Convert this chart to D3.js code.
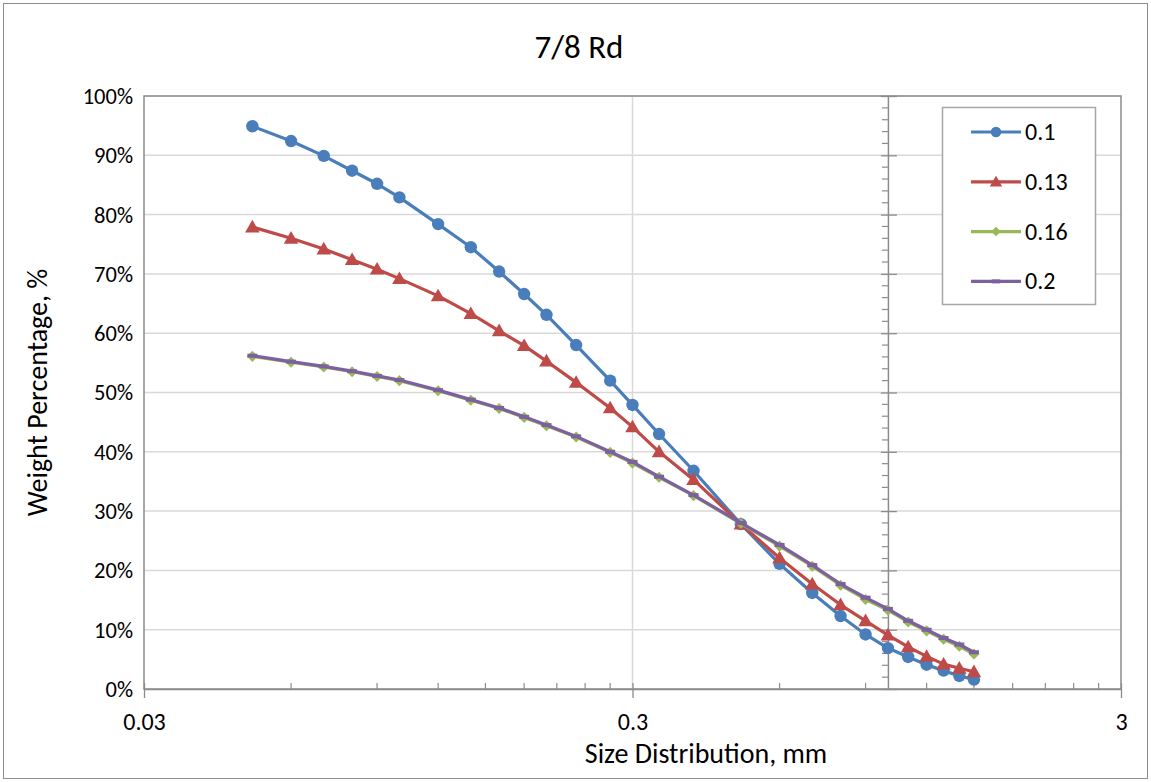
<!DOCTYPE html>
<html>
<head>
<meta charset="utf-8">
<script src="https://cdn.jsdelivr.net/npm/d3@7"></script>
<style>
  html, body { margin: 0; padding: 0; background: #fff; }
  svg { display: block; font-family: Carlito, Calibri, Lato, sans-serif; }
</style>
</head>
<body>
<svg id="chart" width="1151" height="782"></svg>
<script>
// Particle size (mm) for each sieve point
const sizes = [0.05, 0.06, 0.07, 0.08, 0.09, 0.1, 0.12, 0.14, 0.16, 0.18, 0.2, 0.23, 0.27,
               0.3, 0.34, 0.4, 0.5, 0.6, 0.7, 0.8, 0.9, 1.0, 1.1, 1.2, 1.3, 1.4, 1.5];

// Weight percentage (%) per series
const series01 = [94.9, 92.4, 89.9, 87.4, 85.2, 82.9, 78.4, 74.5, 70.4, 66.6, 63.1, 58.0, 52.0,
                  47.9, 43.0, 36.8, 27.8, 21.1, 16.2, 12.3, 9.2, 6.9, 5.4, 4.1, 3.1, 2.2, 1.6];
const series013 = [77.9, 76.0, 74.2, 72.4, 70.8, 69.2, 66.3, 63.3, 60.4, 57.9, 55.3, 51.7, 47.4,
                   44.2, 40.0, 35.3, 27.8, 22.1, 17.7, 14.2, 11.5, 9.1, 7.1, 5.5, 4.2, 3.5, 2.9];
const series016 = [56.1, 55.1, 54.3, 53.5, 52.7, 52.0, 50.3, 48.7, 47.3, 45.8, 44.4, 42.5, 39.9,
                   38.1, 35.7, 32.6, 27.9, 24.1, 20.7, 17.5, 15.1, 13.3, 11.3, 9.8, 8.4, 7.2, 5.9];
const series02 = [56.2, 55.2, 54.4, 53.6, 52.8, 52.1, 50.4, 48.8, 47.4, 45.9, 44.5, 42.6, 40.0,
                  38.3, 35.8, 32.7, 28.0, 24.3, 20.9, 17.7, 15.4, 13.5, 11.5, 10.0, 8.6, 7.5, 6.2];

const seriesNames = ["0.1", "0.13", "0.16", "0.2"];
const yTicks = [0, 10, 20, 30, 40, 50, 60, 70, 80, 90, 100];
const xTicks = [0.03, 0.3, 3];
const xTickLabels = ["0.03", "0.3", "3"];

const colors = ["#4A7EBB", "#BE4B48", "#98B954", "#7D60A0"];
const markers = ["circle", "triangle", "diamond", "dash"];
const allSeries = [series01, series013, series016, series02];

const FONT = "Carlito, Calibri, Lato, sans-serif";
const svg = d3.select("#chart");
const W = 1151, H = 782;

// chart frame
svg.append("rect").attr("x", 3.5).attr("y", 3.5).attr("width", W - 7).attr("height", H - 7)
  .attr("fill", "#fff").attr("stroke", "#8c8c8c").attr("stroke-width", 1);

const plot = { left: 144, right: 1121, top: 96, bottom: 689 };

const x = d3.scaleLog().domain([0.03, 3]).range([plot.left, plot.right]);
const y = d3.scaleLinear().domain([0, 100]).range([plot.bottom, plot.top]);

// horizontal gridlines
svg.append("g").selectAll("line").data(yTicks.slice(1)).join("line")
  .attr("x1", plot.left).attr("x2", plot.right)
  .attr("y1", d => y(d)).attr("y2", d => y(d))
  .attr("stroke", "#d9d9d9").attr("stroke-width", 1.5);

// vertical gridline at the middle decade
svg.append("line").attr("x1", x(0.3)).attr("x2", x(0.3))
  .attr("y1", plot.top).attr("y2", plot.bottom)
  .attr("stroke", "#d9d9d9").attr("stroke-width", 1.5);

// plot border
svg.append("rect").attr("x", plot.left).attr("y", plot.top)
  .attr("width", plot.right - plot.left).attr("height", plot.bottom - plot.top)
  .attr("fill", "none").attr("stroke", "#8c8c8c").attr("stroke-width", 1.5);

// y tick labels on the left
const yAxisLabels = d3.axisLeft(y).tickValues(yTicks).tickSize(0).tickPadding(11)
  .tickFormat(d => d + "%");
svg.append("g").attr("transform", `translate(${plot.left},0)`).call(yAxisLabels)
  .call(g => g.select(".domain").remove())
  .call(g => g.selectAll("text").attr("font-family", FONT)
    .attr("font-size", 22.5).attr("fill", "#000").attr("dy", "0.33em"));

// value axis crossing at size = 1 mm
const axisX = x(1);
const yMinor = d3.range(0, 100.01, 2).filter(v => v % 10 !== 0);
svg.append("g").selectAll("line").data(yMinor).join("line")
  .attr("x1", axisX - 6).attr("x2", axisX)
  .attr("y1", d => y(d)).attr("y2", d => y(d))
  .attr("stroke", "#8c8c8c").attr("stroke-width", 1.2);
const yMajorAxis = d3.axisLeft(y).tickValues(yTicks).tickSizeInner(-9).tickSizeOuter(0).tickFormat("");
svg.append("g").attr("transform", `translate(${axisX},0)`).call(yMajorAxis)
  .call(g => g.select(".domain").attr("stroke", "#8c8c8c").attr("stroke-width", 1.5))
  .call(g => g.selectAll(".tick line").attr("stroke", "#8c8c8c").attr("stroke-width", 1.3)
    .attr("x1", -7).attr("x2", 9));

// x axis: minor ticks
const xMinor = [];
[0.03, 0.3].forEach(base => { for (let k = 2; k <= 9; k++) xMinor.push(base * k); });
svg.append("g").selectAll("line").data(xMinor).join("line")
  .attr("x1", d => x(d)).attr("x2", d => x(d))
  .attr("y1", plot.bottom - 6).attr("y2", plot.bottom)
  .attr("stroke", "#8c8c8c").attr("stroke-width", 1.2);

// x axis: major ticks and labels
const xAxis = d3.axisBottom(x).tickValues(xTicks).tickSizeOuter(0).tickSizeInner(9)
  .tickFormat((d, i) => xTickLabels[i]);
svg.append("g").attr("transform", `translate(0,${plot.bottom})`).call(xAxis)
  .call(g => g.select(".domain").attr("stroke", "#8c8c8c").attr("stroke-width", 1.5))
  .call(g => g.selectAll(".tick line").attr("stroke", "#8c8c8c").attr("stroke-width", 1.3)
    .attr("y1", -6).attr("y2", 9))
  .call(g => g.selectAll("text").attr("font-family", FONT)
    .attr("font-size", 24).attr("fill", "#000").attr("y", 41).attr("dy", 0));

// marker drawing
function drawMarker(sel, type, color, scale) {
  const s = scale || 1;
  if (type === "circle") {
    sel.append("circle").attr("r", 6.2 * s).attr("fill", color);
  } else if (type === "triangle") {
    sel.append("path").attr("d", d3.symbol(d3.symbolTriangle, 92 * s * s)()).attr("fill", color)
      .attr("transform", `translate(0,${1.2 * s})`);
  } else if (type === "diamond") {
    sel.append("path").attr("d", d3.symbol(d3.symbolSquare, 62 * s * s)()).attr("fill", color)
      .attr("transform", "rotate(45)");
  } else {
    sel.append("rect").attr("x", -5 * s).attr("y", -2).attr("width", 10 * s).attr("height", 4)
      .attr("fill", color);
  }
}

const line = d3.line().x(d => x(d[0])).y(d => y(d[1]));

allSeries.forEach((vals, i) => {
  const pts = sizes.map((s, j) => [s, vals[j]]);
  const g = svg.append("g");
  g.append("path").attr("d", line(pts)).attr("fill", "none")
    .attr("stroke", colors[i]).attr("stroke-width", 3.2).attr("stroke-linejoin", "round");
  g.selectAll("g.m").data(pts).join("g").attr("class", "m")
    .attr("transform", d => `translate(${x(d[0])},${y(d[1])})`)
    .each(function () { drawMarker(d3.select(this), markers[i], colors[i], 1); });
});

// title
svg.append("text").attr("x", 579).attr("y", 58).attr("text-anchor", "middle")
  .attr("font-size", 33).attr("fill", "#000").text("7/8 Rd");

// axis titles
svg.append("text").attr("x", 706).attr("y", 763).attr("text-anchor", "middle")
  .attr("font-size", 28).attr("fill", "#000").text("Size Distribution, mm");
svg.append("text").attr("transform", `translate(47,${(plot.top + plot.bottom) / 2}) rotate(-90)`)
  .attr("text-anchor", "middle").attr("font-size", 28).attr("fill", "#000")
  .text("Weight Percentage, %");

// legend
const legend = svg.append("g");
legend.append("rect").attr("x", 942.5).attr("y", 107.5).attr("width", 153).attr("height", 197)
  .attr("fill", "#fff").attr("stroke", "#a6a6a6").attr("stroke-width", 1.5);
seriesNames.forEach((name, i) => {
  const ly = 132 + i * 49.8;
  const item = legend.append("g").attr("transform", `translate(0,${ly})`);
  item.append("line").attr("x1", 971).attr("x2", 1021).attr("y1", 0).attr("y2", 0)
    .attr("stroke", colors[i]).attr("stroke-width", 3.2);
  const m = item.append("g").attr("transform", "translate(996,0)");
  drawMarker(m, markers[i], colors[i], 0.85);
  item.append("text").attr("x", 1025).attr("y", 8).attr("font-size", 24).attr("fill", "#000")
    .text(name);
});
</script>
</body>
</html>
